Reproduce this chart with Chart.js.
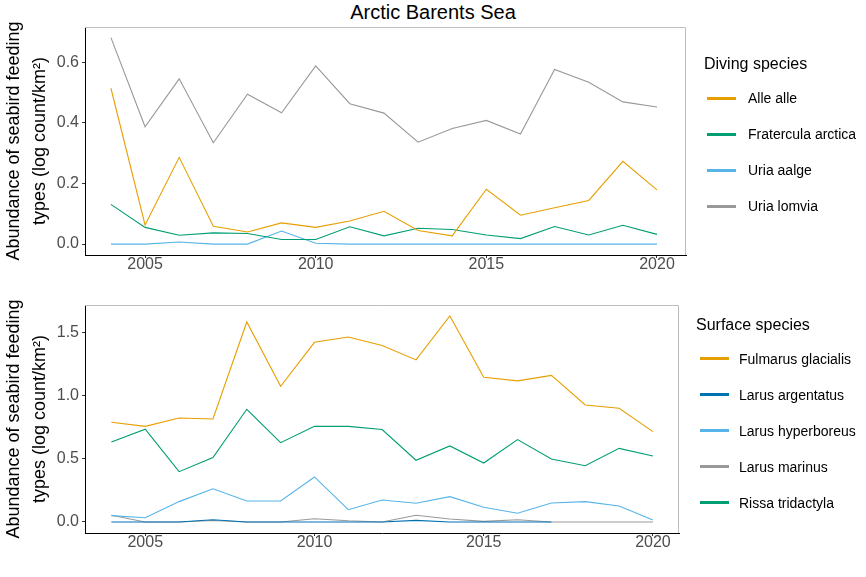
<!DOCTYPE html>
<html><head><meta charset="utf-8">
<script src="https://cdn.jsdelivr.net/npm/chart.js@4"></script>
<style>
body{margin:0;width:866px;height:577px;background:#fff;position:relative;overflow:hidden;font-family:"Liberation Sans",Arial,sans-serif;color:#000;}
canvas{position:absolute;left:0;}
#title{position:absolute;top:0;left:0;width:866px;text-align:center;font-size:20px;line-height:24px;}
.lt{position:absolute;font-size:16px;line-height:20px;white-space:nowrap;}
.li{position:absolute;font-size:14px;line-height:18px;white-space:nowrap;}
.ln{position:absolute;height:3px;width:29px;}
</style></head><body>
<div id="title">Arctic Barents Sea</div>
<canvas id="c1" width="866" height="290" style="top:0px"></canvas>
<canvas id="c2" width="866" height="278" style="top:290px"></canvas>
<div id="leg1"></div>
<div id="leg2"></div>
<script>
const years = [2004,2005,2006,2007,2008,2009,2010,2011,2012,2013,2014,2015,2016,2017,2018,2019,2020];
const xTickValues = [2005,2010,2015,2020];

// Diving species
const divingNames = ["Alle alle","Fratercula arctica","Uria aalge","Uria lomvia"];
const alleAlle = [0.514,0.063,0.286,0.059,0.040,0.070,0.055,0.076,0.108,0.045,0.027,0.181,0.095,0.120,0.144,0.273,0.179];
const fraterculaArctica = [0.131,0.055,0.029,0.037,0.035,0.015,0.015,0.057,0.027,0.052,0.048,0.030,0.018,0.058,0.030,0.062,0.032];
const uriaAalge = [0,0,0.007,0,0,0.043,0.003,0,0,0,0,0,0,0,0,0,0];
const uriaLomvia = [0.681,0.387,0.545,0.334,0.494,0.433,0.588,0.463,0.432,0.336,0.381,0.408,0.363,0.576,0.534,0.469,0.452];
const divingTicks = [0.0,0.2,0.4,0.6];

// Surface species
const surfaceNames = ["Fulmarus glacialis","Larus argentatus","Larus hyperboreus","Larus marinus","Rissa tridactyla"];
const fulmarusGlacialis = [0.788,0.756,0.822,0.814,1.581,1.073,1.420,1.462,1.395,1.281,1.628,1.144,1.115,1.159,0.925,0.899,0.714];
const larusArgentatus = [0,0,0,0.018,0,0,0,0,0,0.013,0,0,0,0,null,null,null];
const larusHyperboreus = [0.050,0.034,0.161,0.263,0.166,0.166,0.356,0.097,0.174,0.148,0.200,0.116,0.069,0.150,0.161,0.126,0.016];
const larusMarinus = [0.053,0,0,0.012,0,0,0.026,0.010,0,0.053,0.024,0.005,0.018,0,0,0,0];
const rissaTridactyla = [0.632,0.733,0.398,0.509,0.891,0.627,0.756,0.756,0.731,0.488,0.601,0.466,0.651,0.498,0.445,0.582,0.522];
const surfaceTicks = [0.0,0.5,1.0,1.5];

const ORANGE="#E69F00", GREEN="#009E73", SKY="#56B4E9", GREY="#999999", BLUE="#0072B2";
const divingColors=[ORANGE,GREEN,SKY,GREY];
const surfaceColors=[ORANGE,BLUE,SKY,GREY,GREEN];
const FAM='"Liberation Sans", Arial, sans-serif';

function ds(label, vals, color){
  return {label, data: years.map((y,i)=>({x:y,y:vals[i]})), borderColor:color, backgroundColor:color,
    borderWidth:1.1, pointRadius:0, tension:0, fill:false, spanGaps:false};
}
const frame={id:'frame',afterDatasetsDraw(chart){const {ctx,chartArea:a}=chart;ctx.save();ctx.strokeStyle='#bdbdbd';ctx.lineWidth=1;ctx.beginPath();ctx.moveTo(a.left,a.top+0.5);ctx.lineTo(a.right-0.5,a.top+0.5);ctx.lineTo(a.right-0.5,a.bottom);ctx.stroke();ctx.restore();}};

function makeChart(id, datasets, yMin, yMax, yTicks, xMin, xMax, pad){
  return new Chart(document.getElementById(id), {
    type:'line',
    data:{datasets},
    plugins:[frame],
    options:{
      responsive:false, animation:false,
      layout:{padding:pad},
      plugins:{legend:{display:false},tooltip:{enabled:false}},
      scales:{
        x:{type:'linear',min:xMin,max:xMax,
          afterBuildTicks:s=>{s.ticks=xTickValues.map(v=>({value:v}));},
          afterFit:s=>{s.height=35;},
          ticks:{callback:v=>String(v),color:'#4d4d4d',font:{family:FAM,size:16,lineHeight:1},padding:-1,maxRotation:0,autoSkip:false},
          grid:{drawOnChartArea:false,tickLength:3,color:'#333',tickColor:'#333'},
          border:{color:'#000',width:1}},
        y:{type:'linear',min:yMin,max:yMax,
          afterBuildTicks:s=>{s.ticks=yTicks.map(v=>({value:v}));},
          afterFit:s=>{s.width=85;},
          ticks:{callback:v=>v.toFixed(1),color:'#4d4d4d',font:{family:FAM,size:16},padding:3,autoSkip:false},
          grid:{drawOnChartArea:false,tickLength:3,color:'#333',tickColor:'#333'},
          border:{color:'#000',width:1},
          title:{display:true,text:['Abundance of seabird feeding','types (log count/km\u00b2)'],color:'#000',font:{family:FAM,size:18,lineHeight:1.45},padding:{top:1,bottom:0}}}
      }
    }
  });
}

makeChart('c1', [ds(divingNames[0],alleAlle,ORANGE),ds(divingNames[1],fraterculaArctica,GREEN),ds(divingNames[2],uriaAalge,SKY),ds(divingNames[3],uriaLomvia,GREY)],
  -0.036, 0.716, divingTicks, 2003.24, 2020.85, {top:27,right:180,left:0,bottom:0});
makeChart('c2', [ds(surfaceNames[0],fulmarusGlacialis,ORANGE),ds(surfaceNames[1],larusArgentatus,BLUE),ds(surfaceNames[2],larusHyperboreus,SKY),ds(surfaceNames[3],larusMarinus,GREY),ds(surfaceNames[4],rissaTridactyla,GREEN)],
  -0.087, 1.715, surfaceTicks, 2003.22, 2020.77, {top:15,right:187,left:0,bottom:0});

function legend(el, title, names, colors, tx, ty, lx, textX, y0, step){
  let h='<div class="lt" style="left:'+tx+'px;top:'+(ty-10)+'px">'+title+'</div>';
  names.forEach((n,i)=>{const y=y0+i*step;
    h+='<div class="ln" style="left:'+lx+'px;top:'+(y-1.5)+'px;background:'+colors[i]+'"></div>';
    h+='<div class="li" style="left:'+textX+'px;top:'+(y-9)+'px">'+n+'</div>';});
  document.getElementById(el).innerHTML=h;
}
legend('leg1','Diving species',divingNames,divingColors,704,64,707,748,98,36);
legend('leg2','Surface species',surfaceNames,surfaceColors,696,325,700,739,358.5,36);
</script>
</body></html>
